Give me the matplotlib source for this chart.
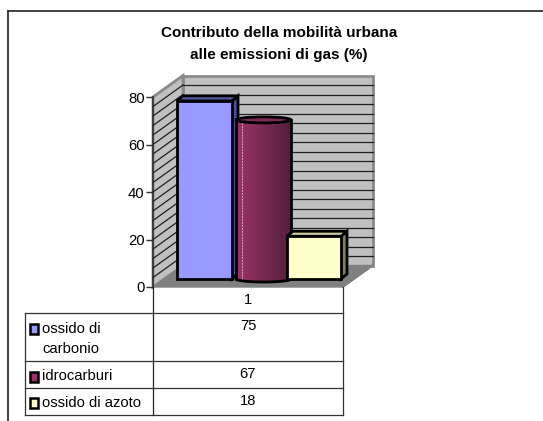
import numpy as np
import matplotlib
matplotlib.use("Agg")
import matplotlib.pyplot as plt
from matplotlib.patches import Polygon, Rectangle, Ellipse

plt.rcParams['font.family'] = ['Liberation Sans', 'DejaVu Sans']

title_lines = ["Contributo della mobilità urbana", "alle emissioni di gas (%)"]
category = "1"
series = ["ossido di\ncarbonio", "idrocarburi", "ossido di azoto"]
values = [75, 67, 18]
yticks = [0, 20, 40, 60, 80]
grid_values = list(range(0, 81, 4))

W, H = 543, 421
fig = plt.figure(figsize=(W / 100, H / 100), dpi=100, facecolor="white")

# overlay in pixel coordinates for frame and data table
ov = fig.add_axes([0, 0, 1, 1], zorder=3)
ov.set_xlim(0, W); ov.set_ylim(H, 0); ov.axis("off"); ov.patch.set_alpha(0)

X0, X1, Y0, Y1 = 153, 343, 287, 97
ax = fig.add_axes([X0 / W, 1 - Y0 / H, (X1 - X0) / W, (Y0 - Y1) / H], zorder=2)
ax.patch.set_alpha(0)
ax.set_xlim(X0, X1); ax.set_ylim(0, 80)
u = (Y0 - Y1) / 80           # pixels per unit
DX, DY = 30, 21.5 / u        # wall depth
BASE = 8 / u                 # bar base above the front edge

WALL, FLOOR, BORDER = "#c0c0c0", "#808080", "#8a8a8a"
def poly(pts, fc, ec="none", lw=0, z=1):
    ax.add_patch(Polygon(pts, closed=True, fc=fc, ec=ec, lw=lw, zorder=z, clip_on=False, joinstyle="miter"))

poly([(X0 + DX, DY), (X1 + DX, DY), (X1 + DX, 80 + DY), (X0 + DX, 80 + DY)], WALL, BORDER, 2.0)
poly([(X0, 0), (X0 + DX, DY), (X0 + DX, 80 + DY), (X0, 80)], WALL, BORDER, 2.0)
poly([(X0, 0), (X0 + DX, DY), (X1 + DX, DY), (X1, 0)], FLOOR, FLOOR, 1)
for g in grid_values[1:-1]:
    ax.plot([X0 + DX, X1 + DX], [g + DY, g + DY], color="#202020", lw=0.9, zorder=1.5, clip_on=False)
    ax.plot([X0, X0 + DX], [g, g + DY], color="#202020", lw=0.9, zorder=1.5, clip_on=False)
ax.plot([X1, X1 + DX], [0, DY], color="#808080", lw=1, zorder=1.6, clip_on=False)

LW = 2.0
EDGE = dict(edgecolor="black", linewidth=LW)
bx, bw = 177, 55
bdx, bdy = 6, 5 / u

def box(x, w, v, face, side, top, z):
    t = BASE + v
    poly([(x + w, BASE), (x + w + bdx, BASE + bdy), (x + w + bdx, t + bdy), (x + w, t)], side, "black", LW, z)
    poly([(x, t), (x + bdx, t + bdy), (x + w + bdx, t + bdy), (x + w, t)], top, "black", LW, z)
    ax.bar(x + w / 2, v, width=w, bottom=BASE, color=face, zorder=z + 0.1, clip_on=False, **EDGE)

# blue box
box(bx, bw, values[0], "#9999ff", "#4d4d99", "#5a5aa8", 3)

# red cylinder
cx0, cw = 236, 55
t = BASE + values[1]
eh = 3 / u
xs = np.arange(cx0, cx0 + cw, 1.0)
c0, c1 = np.array([0.60, 0.20, 0.40]), np.array([0.33, 0.12, 0.24])
for xx in xs:
    f = (xx - cx0) / (cw - 1)
    e = np.sqrt(max(0, 1 - (2 * f - 1) ** 2)) * eh
    ax.bar(xx + 0.5, values[1] + e, width=1.1, bottom=BASE - e, color=c0 + (c1 - c0) * f, zorder=4, clip_on=False, lw=0)
th = np.linspace(0, np.pi, 60)
ex = cx0 + cw / 2 + cw / 2 * np.cos(th)
ax.plot(ex, BASE - eh * np.sin(th), color="black", lw=LW, zorder=4.2, clip_on=False)
ax.plot([cx0, cx0], [BASE, t], color="black", lw=LW, zorder=4.2, clip_on=False)
ax.plot([cx0 + cw, cx0 + cw], [BASE, t], color="black", lw=LW, zorder=4.2, clip_on=False)
ax.plot([cx0 + 5.5, cx0 + 5.5], [BASE, t - 1], color="#d9a8c0", lw=0.7, ls=(0, (2, 1)), zorder=4.1, clip_on=False)
ax.add_patch(Ellipse((cx0 + cw / 2, t), cw, 2 * eh, fc="#7d2a55", ec="black", lw=LW, zorder=4.3, clip_on=False))

# yellow box
box(287, 54, values[2], "#ffffcc", "#808066", "#cccca3", 5)

# y axis
for s in ["top", "right", "bottom"]:
    ax.spines[s].set_visible(False)
ax.spines["left"].set_color("#303030"); ax.spines["left"].set_linewidth(1.2)
ax.set_yticks(yticks); ax.set_xticks([])
ax.tick_params(axis="y", length=5, width=1.0, color="#303030", labelsize=10.7, pad=1)

# frame
FRAME = "#333333"
ov.plot([8, 8], [H, 11], color=FRAME, lw=1.3, solid_capstyle="projecting")
ov.plot([8, W], [11, 11], color=FRAME, lw=1.3, solid_capstyle="projecting")

# title
for line, y in zip(title_lines, [33, 55]):
    ov.text(279, y, line, ha="center", va="center", fontsize=11, fontweight="bold")

# data table
FS = 10.6
TL, TM, TR = 25, 153, 343
rows = [313, 361, 388, 415]
LC = "#333333"
for y in rows:
    ov.plot([TL, TR], [y, y], color=LC, lw=0.9)
ov.plot([TM, TM], [Y0, rows[-1]], color="#222222", lw=0.9)
ov.plot([TR, TR], [Y0, rows[-1]], color=LC, lw=0.9)
ov.plot([TL, TL], [rows[0], rows[-1]], color=LC, lw=0.9)
ov.text((TM + TR) / 2, 300, category, ha="center", va="center", fontsize=FS)
faces = ["#9999ff", "#993366", "#ffffcc"]
key_y = [329, 376.5, 403]
for i, (s, v, c) in enumerate(zip(series, values, faces)):
    ov.add_patch(Rectangle((29.5, key_y[i] - 5), 8.5, 10, fc=c, ec="black", lw=1.8))
    if "\n" in s:
        a, b = s.split("\n")
        ov.text(42, 329, a, va="center", ha="left", fontsize=FS)
        ov.text(42, 349, b, va="center", ha="left", fontsize=FS)
    else:
        ov.text(42, round(key_y[i]), s, va="center", ha="left", fontsize=FS)
    ov.text((TM + TR) / 2, [326, 374, 401][i], str(v), ha="center", va="center", fontsize=FS)

fig.savefig("out.png", dpi=100)
